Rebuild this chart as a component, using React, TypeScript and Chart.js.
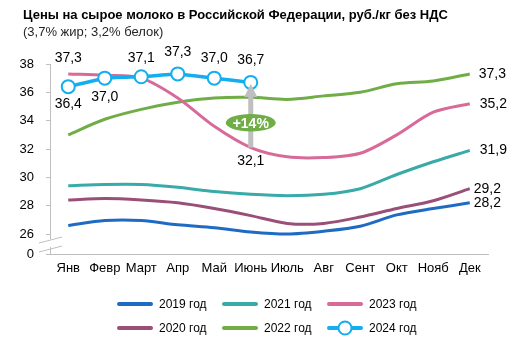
import { useEffect, useRef } from "react";
import { Chart, registerables } from "chart.js";

Chart.register(...registerables);

const FONT = "'Liberation Sans', Arial, sans-serif";

const titleText = "Цены на сырое молоко в Российской Федерации, руб./кг без НДС";
const subtitleText = "(3,7% жир; 3,2% белок)";
const badgeText = "+14%";

const months = ["Янв", "Февр", "Март", "Апр", "Май", "Июнь", "Июль", "Авг", "Сент", "Окт", "Нояб", "Дек"];

const y2019 = [26.6, 26.95, 26.95, 26.65, 26.45, 26.15, 26.0, 26.2, 26.55, 27.35, 27.8, 28.2];
const y2020 = [28.4, 28.5, 28.4, 28.2, 27.8, 27.3, 26.75, 26.75, 27.2, 27.8, 28.35, 29.2];
const y2021 = [29.4, 29.5, 29.5, 29.3, 29.0, 28.8, 28.7, 28.8, 29.2, 30.2, 31.1, 31.9];
const y2022 = [33.0, 34.1, 34.8, 35.3, 35.6, 35.65, 35.5, 35.75, 36.0, 36.6, 36.8, 37.3];
const y2023 = [37.3, 37.2, 37.0, 35.6, 33.6, 32.1, 31.45, 31.4, 31.7, 33.0, 34.6, 35.2];
const y2024 = [36.4, 37.0, 37.1, 37.3, 37.0, 36.7, null, null, null, null, null, null];

const seriesNames = ["2019 год", "2020 год", "2021 год", "2022 год", "2023 год", "2024 год"];
const yTicks = [0, 26, 28, 30, 32, 34, 36, 38];
const BREAK_VALUE = 24.59; // where the "0" tick sits below the axis break

const C2019 = "#1F6BC4";
const C2020 = "#9A4F78";
const C2021 = "#38AAA7";
const C2022 = "#70AD47";
const C2023 = "#D76A99";
const C2024 = "#14AEEE";
const GRAY = "#BFBFBF";

// label placement: [datasetLabel, pointIndex, dx, dy, align]
const labelPlacement: [string, number, number, number, CanvasTextAlign][] = [
  ["2023 год", 0, 0, -16, "center"],
  ["2023 год", 5, 0, 14, "center"],
  ["2023 год", 11, 10, 0, "left"],
  ["2024 год", 0, 0, 17, "center"],
  ["2024 год", 1, 0, 19, "center"],
  ["2024 год", 2, 0, -19, "center"],
  ["2024 год", 3, 0, -22, "center"],
  ["2024 год", 4, 0, -20, "center"],
  ["2024 год", 5, 0, -22, "center"],
  ["2022 год", 11, 9, 0, "left"],
  ["2021 год", 11, 10, 0, "left"],
  ["2020 год", 11, 4, 0, "left"],
  ["2019 год", 11, 4, 0, "left"],
];

const legendGrid = [
  ["2019 год", "2021 год", "2023 год"],
  ["2020 год", "2022 год", "2024 год"],
];

const fmt = (v: number) => v.toFixed(1).replace(".", ",");

const overlayPlugin = {
  id: "overlay",
  afterDatasetsDraw(chart: any) {
    const ctx: CanvasRenderingContext2D = chart.ctx;
    const dsIndex = (name: string) => chart.data.datasets.findIndex((d: any) => d.label === name);
    const i23 = dsIndex("2023 год");
    const i24 = dsIndex("2024 год");
    const p23 = chart.getDatasetMeta(i23).data[5];
    const p24 = chart.getDatasetMeta(i24).data[5];

    // arrow
    const ax = p24.x;
    const tip = p24.y + 1.5;
    const bottom = p23.y;
    const headH = 13;
    const headW = 6.5;
    ctx.save();
    ctx.fillStyle = GRAY;
    ctx.fillRect(ax - 2.5, tip + headH - 1, 5, bottom - (tip + headH - 1));
    ctx.beginPath();
    ctx.moveTo(ax, tip);
    ctx.lineTo(ax + headW, tip + headH);
    ctx.lineTo(ax - headW, tip + headH);
    ctx.closePath();
    ctx.fill();

    // badge
    const cy = (tip + bottom) / 2 + 7;
    ctx.fillStyle = C2022;
    ctx.beginPath();
    ctx.ellipse(ax, cy, 25, 8.7, 0, 0, Math.PI * 2);
    ctx.fill();
    ctx.fillStyle = "#FFFFFF";
    ctx.font = `bold 14px ${FONT}`;
    ctx.textAlign = "center";
    ctx.textBaseline = "middle";
    ctx.fillText(badgeText, ax, cy + 1);

    // data labels
    ctx.fillStyle = "#000000";
    ctx.font = `14px ${FONT}`;
    for (const [name, idx, dx, dy, align] of labelPlacement) {
      const di = dsIndex(name);
      const pt = chart.getDatasetMeta(di).data[idx];
      const v = chart.data.datasets[di].data[idx];
      ctx.textAlign = align;
      ctx.fillText(fmt(v), pt.x + dx, pt.y + dy);
    }
    ctx.restore();
  },
  afterDraw(chart: any) {
    const ctx: CanvasRenderingContext2D = chart.ctx;
    const area = chart.chartArea;
    ctx.save();
    // title
    ctx.fillStyle = "#000000";
    ctx.textAlign = "left";
    ctx.textBaseline = "middle";
    ctx.font = `bold 13px ${FONT}`;
    ctx.fillText(titleText, 23, 15);
    ctx.font = `13px ${FONT}`;
    ctx.fillStyle = "#262626";
    ctx.fillText(subtitleText, 23, 32);

    // axis break
    const yS = chart.scales.y;
    const y26 = yS.getPixelForValue(26);
    const y0 = yS.getPixelForValue(BREAK_VALUE);
    const xA = area.left;
    ctx.fillStyle = "#FFFFFF";
    ctx.fillRect(xA - 2, y26 + 5, 4, y0 - y26 - 12);
    ctx.strokeStyle = GRAY;
    ctx.lineWidth = 1;
    ctx.beginPath();
    ctx.moveTo(xA - 11, y26 + 9);
    ctx.lineTo(xA + 12, y26 + 3);
    ctx.moveTo(xA - 11, y26 + 18);
    ctx.lineTo(xA + 12, y26 + 12);
    ctx.stroke();

    // legend
    const colX = [119, 224, 329];
    const rowY = [304, 328];
    ctx.font = `12px ${FONT}`;
    ctx.textBaseline = "middle";
    legendGrid.forEach((row, r) => {
      row.forEach((name, c) => {
        const ds = chart.data.datasets.find((d: any) => d.label === name);
        const x = colX[c];
        const y = rowY[r];
        ctx.strokeStyle = ds.borderColor;
        ctx.lineWidth = 4;
        ctx.lineCap = "round";
        ctx.beginPath();
        ctx.moveTo(x, y);
        ctx.lineTo(x + 32, y);
        ctx.stroke();
        if (ds.pointRadius > 0) {
          ctx.fillStyle = "#FFFFFF";
          ctx.lineWidth = 2;
          ctx.beginPath();
          ctx.arc(x + 16, y, 6.5, 0, Math.PI * 2);
          ctx.fill();
          ctx.stroke();
        }
        ctx.fillStyle = "#000000";
        ctx.textAlign = "left";
        ctx.fillText(name, x + 40, y + 1);
      });
    });
    ctx.restore();
  },
};

export default function App() {
  const ref = useRef<HTMLCanvasElement | null>(null);

  useEffect(() => {
    if (!ref.current) return;
    Chart.defaults.font.family = FONT;
    const line = (label: string, data: (number | null)[], color: string, width = 3) => ({
      label,
      data,
      borderColor: color,
      backgroundColor: color,
      borderWidth: width,
      pointRadius: 0,
      pointHoverRadius: 0,
      tension: 0.3,
      clip: false as const,
      fill: false,
    });
    const chart = new Chart(ref.current, {
      type: "line",
      data: {
        labels: months,
        datasets: [
          {
            ...line(seriesNames[5], y2024, C2024, 3.5),
            pointRadius: 6.5,
            pointBorderWidth: 2,
            pointBackgroundColor: "#FFFFFF",
            pointBorderColor: C2024,
            tension: 0.1,
          },
          line(seriesNames[4], y2023, C2023),
          line(seriesNames[3], y2022, C2022),
          line(seriesNames[2], y2021, C2021),
          line(seriesNames[1], y2020, C2020),
          line(seriesNames[0], y2019, C2019),
        ],
      },
      options: {
        animation: false,
        responsive: false,
        maintainAspectRatio: false,
        layout: { padding: { top: 64, right: 29, bottom: 59, left: 0 } },
        plugins: { legend: { display: false }, tooltip: { enabled: false }, title: { display: false } },
        scales: {
          x: {
            type: "category",
            offset: true,
            grid: { display: false, drawTicks: false },
            border: { color: GRAY, width: 1 },
            ticks: {
              color: "#000000",
              font: { size: 13, family: FONT },
              autoSkip: false,
              maxRotation: 0,
              minRotation: 0,
              padding: 7,
            },
            afterFit: (s: any) => {
              s.height = 30;
            },
          },
          y: {
            type: "linear",
            min: BREAK_VALUE,
            max: 38,
            grid: { drawOnChartArea: false, tickLength: 4, color: GRAY },
            border: { color: GRAY, width: 1 },
            afterBuildTicks: (s: any) => {
              s.ticks = yTicks.map((v) => ({ value: v === 0 ? BREAK_VALUE : v }));
            },
            ticks: {
              color: "#000000",
              font: { size: 13, family: FONT },
              padding: 12,
              callback: (_v: any, i: number) => String(yTicks[i]),
            },
            afterFit: (s: any) => {
              s.width = 50;
            },
          },
        },
      },
      plugins: [overlayPlugin],
    });
    return () => chart.destroy();
  }, []);

  return (
    <div style={{ position: "fixed", left: 0, top: 0, width: 517, height: 343, background: "#FFFFFF" }}>
      <canvas ref={ref} width={517} height={343} style={{ width: 517, height: 343, display: "block" }} />
    </div>
  );
}
